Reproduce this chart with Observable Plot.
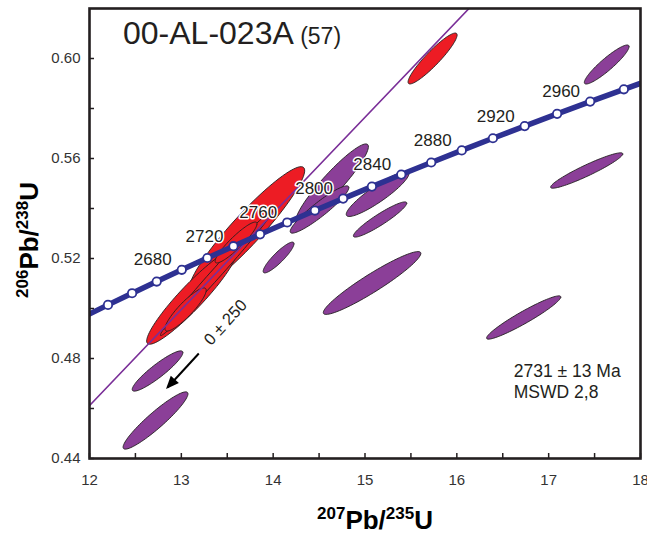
<!DOCTYPE html>
<html><head><meta charset="utf-8">
<script src="https://cdn.jsdelivr.net/npm/d3@7"></script>
<script src="https://cdn.jsdelivr.net/npm/@observablehq/plot@0.6"></script>
<style>body{margin:0;background:#fff}</style>
</head><body><div id="chart"></div>
<script>
// ---- data ----
const lambda238 = 1.55125e-4; // per Ma
const lambda235 = 9.8485e-4;  // per Ma
const concordiaAges = [2600,2620,2640,2660,2680,2700,2720,2740,2760,2780,2800,2820,2840,2860,2880,2900,2920,2940,2960,2980,3000];
const markerAges = [2620,2640,2660,2680,2700,2720,2740,2760,2780,2800,2820,2840,2860,2880,2900,2920,2940,2960,2980];
const labelAges = [2680,2720,2760,2800,2840,2880,2920,2960];
const discordiaAges = [0, 2731];   // lower & upper intercepts (Ma)
const discordiaExtent = [0, 1.18]; // fraction of the upper intercept spanned by the line

// ellipses: 207Pb/235U, half width, 206Pb/238U, half height, correlation
const ellGroup = ["p","p","p","p","p","p","p","p","p","p","p","r","r","r","r","r","r"];
const ellX   = [17.632,17.414,16.728,15.077,12.741,12.719,14.059,15.164,15.137,14.642,14.505, 13.716,13.111,13.383,13.046,13.596,15.736];
const ellSX  = [0.2435,0.393,0.404,0.531,0.2758,0.3533,0.1679,0.2905,0.3413,0.395,0.3195, 0.627,0.4886,0.611,0.2247,0.2279,0.267];
const ellY   = [0.5976,0.5552,0.4964,0.5102,0.475,0.4552,0.5204,0.5356,0.5458,0.550,0.5396, 0.5318,0.5046,0.5142,0.4996,0.5264,0.600];
const ellSY  = [0.00781,0.00708,0.00866,0.01257,0.00806,0.01146,0.00616,0.00705,0.00899,0.01583,0.00946, 0.02493,0.01889,0.02503,0.00862,0.00818,0.01018];
const ellRho = [0.917,0.94,0.948,0.942,0.915,0.931,0.895,0.93,0.904,0.93,0.927, 0.937,0.932,0.993,0.89,0.916,0.923];

const xMajor = [12,13,14,15,16,17,18];
const xMinor = [12,12.5,13,13.5,14,14.5,15,15.5,16,16.5,17,17.5,18];
const yMajor = [0.44,0.48,0.52,0.56,0.60];
const yMinor = [0.44,0.46,0.48,0.50,0.52,0.54,0.56,0.58,0.60];

const arrowFrom = {x: 13.19, y: 0.482};
const arrowTo   = {x: 12.85, y: 0.4684};
const interceptLabel = {x: 13.481, y: 0.4944, text: "0 ± 250"};
const resultText = {x: 16.62, y: 0.4712, text: "2731 ± 13 Ma\nMSWD 2,8"};

// ---- derived ----
const conc = t => ({age: t, x: Math.exp(lambda235 * t) - 1, y: Math.exp(lambda238 * t) - 1});
const concLine = concordiaAges.map(conc);
const concMarkers = markerAges.map(conc);
const concLabels = labelAges.map(conc);
const up = conc(discordiaAges[1]);
const discLine = discordiaExtent.map(f => ({x: up.x * f, y: up.y * f}));

const ellPts = [];
ellX.forEach((cx, i) => {
  const s = Math.sqrt(1 - ellRho[i] * ellRho[i]);
  for (let k = 0; k < 90; k++) {
    const th = 2 * Math.PI * k / 90;
    ellPts.push({id: i, g: ellGroup[i],
      x: cx + ellSX[i] * Math.cos(th),
      y: ellY[i] + ellSY[i] * (ellRho[i] * Math.cos(th) + s * Math.sin(th))});
  }
});

const RED = "#ed1c24", PURPLE = "#8b3f98", BLUE = "#2e3192", DISC = "#7a2f98", INK = "#231f20";
const FONT = "Arial, 'Liberation Sans', Helvetica, sans-serif";

const arrowHead = {draw(ctx, size) { const h = 13, w = 5.5; ctx.moveTo(0, 0); ctx.lineTo(w, h); ctx.lineTo(-w, h); ctx.closePath(); }};

const chart = Plot.plot({
  width: 647, height: 536,
  marginLeft: 89, marginRight: 7, marginTop: 8, marginBottom: 78,
  x: {domain: [12, 18]},
  y: {domain: [0.44, 0.62]},
  style: {fontFamily: FONT, fontSize: "15px", color: INK, background: "white"},
  marks: [
    Plot.line(ellPts.filter(d => d.g === "p"), {x: "x", y: "y", z: "id", fill: PURPLE, stroke: INK, strokeWidth: 0.9, curve: "linear-closed"}),
    Plot.line(ellPts.filter(d => d.g === "r"), {x: "x", y: "y", z: "id", fill: RED, stroke: INK, strokeWidth: 0.9, curve: "linear-closed"}),
    Plot.line(discLine, {x: "x", y: "y", stroke: DISC, strokeWidth: 1.6, clip: true}),
    Plot.line(concLine, {x: "x", y: "y", stroke: BLUE, strokeWidth: 5.5, clip: true}),
    Plot.dot(concMarkers, {x: "x", y: "y", r: 4.2, fill: "white", stroke: BLUE, strokeWidth: 1.8}),
    Plot.text(concLabels, {x: "x", y: "y", text: d => String(d.age), dx: -29, dy: -10, fontSize: 17, fill: INK, stroke: "white", strokeWidth: 3}),
    Plot.link([0], {x1: () => arrowFrom.x, y1: () => arrowFrom.y, x2: () => arrowTo.x, y2: () => arrowTo.y, stroke: "black", strokeWidth: 2}),
    Plot.dot([0], {x: () => arrowTo.x, y: () => arrowTo.y, symbol: arrowHead, r: 4, fill: "black", stroke: "none", rotate: 222.4, dx: -1.5, dy: 1.5}),
    Plot.text([interceptLabel], {x: "x", y: "y", text: "text", rotate: -47.6, fontSize: 16.5, fill: INK}),
    Plot.text([resultText], {x: "x", y: "y", text: "text", textAnchor: "start", lineAnchor: "middle", lineHeight: 1.2, fontSize: 17.5, fill: INK}),
    Plot.axisX(xMinor, {tickSize: -5, tickFormat: () => "", label: null, strokeWidth: 1.5}),
    Plot.axisX(xMajor, {tickSize: 0, tickPadding: 16, tickFormat: d => String(d), label: null, fontSize: 15, fill: "#333"}),
    Plot.axisY(yMinor, {tickSize: -5, tickFormat: () => "", label: null, strokeWidth: 1.5}),
    Plot.axisY(yMajor, {tickSize: 0, tickPadding: 9, tickFormat: d3.format(".2f"), label: null, fontSize: 15, fill: "#333"}),
    Plot.frame({stroke: INK, strokeWidth: 2.6})
  ]
});

const svg = d3.select(chart);
// title
const t = svg.append("text").attr("x", 123).attr("y", 44).attr("text-anchor", "start").attr("fill", INK).attr("font-family", FONT);
t.append("tspan").attr("font-size", 32).text("00-AL-023A");
t.append("tspan").attr("font-size", 23).text(" (57)");
// x label
const xl = svg.append("text").attr("x", 375).attr("y", 529).attr("text-anchor", "middle")
  .attr("font-family", FONT).attr("font-weight", "bold").attr("fill", "black");
xl.append("tspan").attr("font-size", 17).attr("dy", -10).text("207");
xl.append("tspan").attr("font-size", 26).attr("dy", 10).text("Pb/");
xl.append("tspan").attr("font-size", 17).attr("dy", -10).text("235");
xl.append("tspan").attr("font-size", 26).attr("dy", 10).text("U");
// y label
const yl = svg.append("text").attr("transform", "translate(38,240) rotate(-90)").attr("text-anchor", "middle")
  .attr("font-family", FONT).attr("font-weight", "bold").attr("fill", "black");
yl.append("tspan").attr("font-size", 17).attr("dy", -10).text("206");
yl.append("tspan").attr("font-size", 26).attr("dy", 10).text("Pb/");
yl.append("tspan").attr("font-size", 17).attr("dy", -10).text("238");
yl.append("tspan").attr("font-size", 26).attr("dy", 10).text("U");

document.getElementById("chart").appendChild(chart);
</script></body></html>
